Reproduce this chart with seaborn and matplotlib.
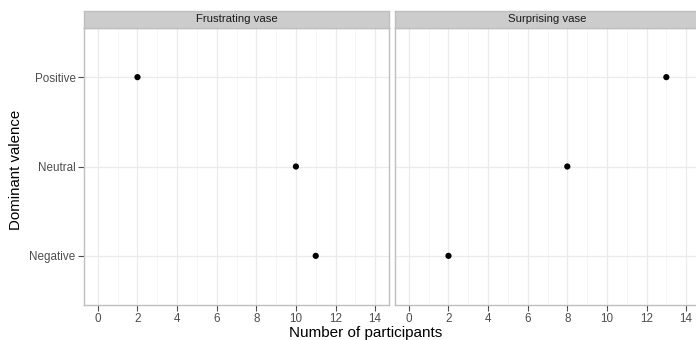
import matplotlib
matplotlib.use("Agg")
import matplotlib.pyplot as plt
import seaborn as sns
import pandas as pd
from matplotlib.ticker import MultipleLocator

conditions = ["Frustrating vase", "Surprising vase"]
valences = ["Positive", "Neutral", "Negative"]
frustrating_counts = [2, 10, 11]
surprising_counts = [13, 8, 2]
x_ticks = [0, 2, 4, 6, 8, 10, 12, 14]

df = pd.DataFrame({
    "condition": [conditions[0]] * 3 + [conditions[1]] * 3,
    "valence": valences * 2,
    "count": frustrating_counts + surprising_counts,
})
ypos = {v: i for i, v in enumerate(valences)}
df["ypos"] = df["valence"].map(ypos)

sns.set_theme(style="white")
plt.rcParams["font.family"] = ["Liberation Sans", "DejaVu Sans"]

W, H = 696, 340
fig = plt.figure(figsize=(W / 100, H / 100), dpi=100)

panel_w = 305
panel_top, panel_bot = 28, 305
strip_top = 11
lefts = [84, 395]

border = "#BFBFBF"
text_col = "#4D4D4D"

for i, (cond, left) in enumerate(zip(conditions, lefts)):
    ax = fig.add_axes([left / W, 1 - panel_bot / H, panel_w / W, (panel_bot - panel_top) / H])
    sub = df[df["condition"] == cond]
    ax.set_axisbelow(True)
    sns.scatterplot(data=sub, x="count", y="ypos", ax=ax, color="black",
                    s=20, edgecolor="none", legend=False, zorder=3)
    ax.set_xlim(-0.7, 14.7)
    ax.set_ylim(2.55, -0.55)
    ax.set_xticks(x_ticks)
    ax.xaxis.set_minor_locator(MultipleLocator(1))
    ax.set_yticks(range(len(valences)))
    ax.grid(which="major", color="#EBEBEB", linewidth=0.9)
    ax.grid(which="minor", axis="x", color="#F5F5F5", linewidth=0.6)
    for s in ax.spines.values():
        s.set_color(border)
        s.set_linewidth(1.0)
    ax.tick_params(axis="both", which="major", length=4, width=0.8, color=text_col,
                   labelsize=8.4, labelcolor=text_col, pad=2, bottom=True, left=(i == 0))
    ax.tick_params(which="minor", length=0)
    ax.set_xlabel("")
    ax.set_ylabel("")
    if i == 0:
        ax.set_yticklabels(valences)
    else:
        ax.set_yticklabels([])

    sax = fig.add_axes([left / W, 1 - panel_top / H, panel_w / W, (panel_top - strip_top) / H])
    sax.set_facecolor("#CCCCCC")
    sax.set_xticks([])
    sax.set_yticks([])
    for s in sax.spines.values():
        s.set_color(border)
        s.set_linewidth(1.0)
    sax.text(0.5, 0.5, cond, ha="center", va="center", fontsize=8.2,
             color="#1A1A1A", transform=sax.transAxes)

fig.text(366 / W, 1 - 333 / H, "Number of participants", ha="center", va="center",
         fontsize=11, color="black")
fig.text(16 / W, 1 - 169.5 / H, "Dominant valence", ha="center", va="center",
         rotation=90, fontsize=10.8, color="black")

fig.savefig("out.png", dpi=100, facecolor="white")
